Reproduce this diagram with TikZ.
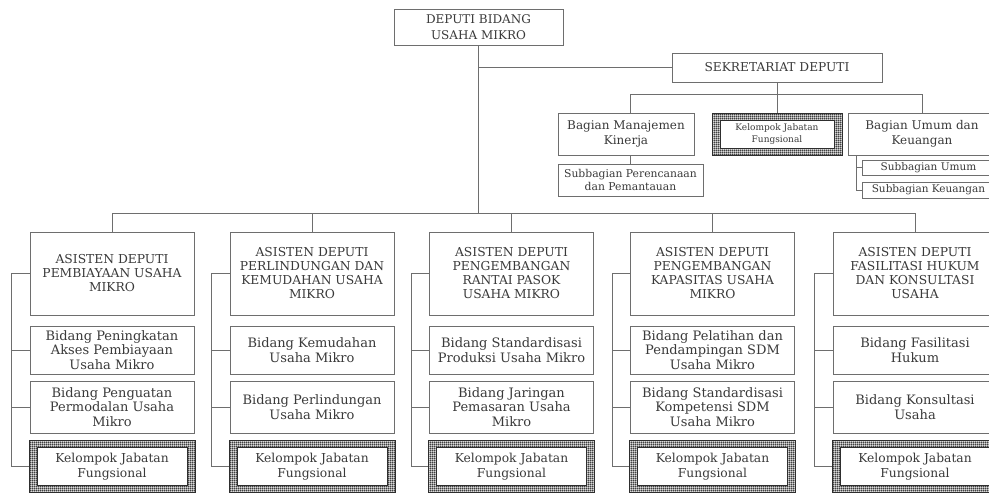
\documentclass[tikz,border=0pt]{standalone}
\usepackage{fontspec}
\setmainfont{DejaVu Serif}
\usetikzlibrary{patterns}

% fine square grid used for the frames of the functional-group boxes
\pgfdeclarepatternformonly{kjfgrid}{\pgfpointorigin}{\pgfqpoint{2.2pt}{2.2pt}}{\pgfqpoint{2.2pt}{2.2pt}}{%
  \pgfsetlinewidth{1.1pt}%
  \pgfpathmoveto{\pgfqpoint{0pt}{1.1pt}}\pgfpathlineto{\pgfqpoint{2.2pt}{1.1pt}}%
  \pgfpathmoveto{\pgfqpoint{1.1pt}{0pt}}\pgfpathlineto{\pgfqpoint{1.1pt}{2.2pt}}%
  \pgfusepath{stroke}}

\definecolor{linecol}{HTML}{6E6E6E}
\definecolor{txtcol}{HTML}{3A3A3A}
\definecolor{gridcol}{HTML}{2E2E2E}

\tikzset{
  box/.style={draw=linecol, line width=0.9pt, fill=white, inner sep=1pt,
              align=center, text=txtcol},
  conn/.style={draw=linecol, line width=0.9pt},
  topbox/.style={box, minimum width=169pt, minimum height=36pt,
                 font=\fontsize{12}{15.5}\selectfont},
  sekbox/.style={box, minimum width=210pt, minimum height=29pt,
                 font=\fontsize{12.2}{14}\selectfont},
  bagbox/.style={box, minimum height=42pt, font=\fontsize{12}{14.5}\selectfont},
  subbox/.style={box, font=\fontsize{10.5}{13.5}\selectfont},
  header/.style={box, minimum width=164pt, minimum height=83pt,
                 font=\fontsize{12.3}{14}\selectfont},
  bidang/.style={box, minimum width=164pt, font=\fontsize{13}{14.5}\selectfont},
  kjfframe/.style={draw=gridcol, line width=0.6pt, pattern=kjfgrid,
                   pattern color=gridcol, inner sep=0pt},
  kjftext/.style={box, line width=0.8pt, draw=gridcol},
}

\begin{document}
\begin{tikzpicture}[x=1pt, y=-1pt]
\useasboundingbox (0,0) rectangle (989,493);
\clip (0,0) rectangle (989,493);
\fill[white] (0,0) rectangle (989,493);

% ---- top level and secretariat ----
\node[topbox] (dep) at (478.5,27) {DEPUTI BIDANG\\USAHA MIKRO};
\node[sekbox] (sek) at (777,67.5) {SEKRETARIAT DEPUTI};

\node[bagbox, minimum width=136pt] (bmk) at (626,134) {Bagian Manajemen\\Kinerja};
\node[kjfframe, minimum width=130pt, minimum height=42pt] (kjfs) at (777,134) {};
\node[kjftext, minimum width=114pt, minimum height=28pt,
      font=\fontsize{9}{11.5}\selectfont] (kjfst) at (kjfs) {Kelompok Jabatan\\Fungsional};
\node[bagbox, minimum width=148pt] (bum) at (922,134) {Bagian Umum dan\\Keuangan};

\node[subbox, minimum width=145pt, minimum height=32pt,
      font=\fontsize{10.8}{13.5}\selectfont] (sbp) at (630.5,180) {Subbagian Perencanaan\\dan Pemantauan};
\node[subbox, minimum width=133pt, minimum height=15pt] (sbu) at (928.5,167.5) {Subbagian Umum};
\node[subbox, minimum width=133pt, minimum height=16pt] (sbk) at (928.5,190) {Subbagian Keuangan};

% ---- assistant deputies ----
\node[header] (h1) at (112,273.5) {ASISTEN DEPUTI\\PEMBIAYAAN USAHA\\MIKRO};
\node[header] (h2) at (312,273.5) {ASISTEN DEPUTI\\PERLINDUNGAN DAN\\KEMUDAHAN USAHA\\MIKRO};
\node[header] (h3) at (511.5,273.5) {ASISTEN DEPUTI\\PENGEMBANGAN\\RANTAI PASOK\\USAHA MIKRO};
\node[header] (h4) at (712.5,273.5) {ASISTEN DEPUTI\\PENGEMBANGAN\\KAPASITAS USAHA\\MIKRO};
\node[header] (h5) at (915,273.5) {ASISTEN DEPUTI\\FASILITASI HUKUM\\DAN KONSULTASI\\USAHA};

% first field of each unit
\node[bidang, minimum height=48pt] (b1a) at (112,350) {Bidang Peningkatan\\Akses Pembiayaan\\Usaha Mikro};
\node[bidang, minimum height=48pt] (b2a) at (312,350) {Bidang Kemudahan\\Usaha Mikro};
\node[bidang, minimum height=48pt] (b3a) at (511.5,350) {Bidang Standardisasi\\Produksi Usaha Mikro};
\node[bidang, minimum height=48pt] (b4a) at (712.5,350) {Bidang Pelatihan dan\\Pendampingan SDM\\Usaha Mikro};
\node[bidang, minimum height=48pt] (b5a) at (915,350) {Bidang Fasilitasi\\Hukum};

% second field of each unit
\node[bidang, minimum height=52pt] (b1b) at (112,407) {Bidang Penguatan\\Permodalan Usaha\\Mikro};
\node[bidang, minimum height=52pt] (b2b) at (312,407) {Bidang Perlindungan\\Usaha Mikro};
\node[bidang, minimum height=52pt] (b3b) at (511.5,407) {Bidang Jaringan\\Pemasaran Usaha\\Mikro};
\node[bidang, minimum height=52pt] (b4b) at (712.5,407) {Bidang Standardisasi\\Kompetensi SDM\\Usaha Mikro};
\node[bidang, minimum height=52pt] (b5b) at (915,407) {Bidang Konsultasi\\Usaha};

% functional groups
\foreach \n/\cx in {1/112, 2/312, 3/511.5, 4/712.5, 5/915} {
  \node[kjfframe, minimum width=166pt, minimum height=52pt] (k\n) at (\cx,466.5) {};
  \node[kjftext, minimum width=150pt, minimum height=38pt,
        font=\fontsize{12.3}{14.5}\selectfont] (k\n t) at (k\n) {Kelompok Jabatan\\Fungsional};
}

% ---- connectors ----
\coordinate (bus) at (0,213);
\coordinate (sbus) at (0,94);
\coordinate (sl) at (856,0);

\draw[conn] (dep.south) -- (dep.south |- bus);
\draw[conn] (dep.south |- sek.west) -- (sek.west);
\draw[conn] (h1.north |- bus) -- (h5.north |- bus);
\foreach \n in {1,...,5} {
  \draw[conn] (h\n.north |- bus) -- (h\n.north);
  \path (h\n.west) ++(-18,0) coordinate (v\n);
  \draw[conn] (h\n.west) -- (v\n) |- (k\n.west);
  \draw[conn] (b\n a.west) -- (b\n a.west -| v\n);
  \draw[conn] (b\n b.west) -- (b\n b.west -| v\n);
}

\draw[conn] (sek.south) -- (kjfs.north);
\draw[conn] (sbp.north |- sbus) -- (bum.north |- sbus);
\draw[conn] (sbp.north |- sbus) -- (sbp.north |- bmk.north);
\draw[conn] (bum.north |- sbus) -- (bum.north);
\draw[conn] (sbp.north |- bmk.south) -- (sbp.north);
\draw[conn] (sl |- bum.south) -- (sl |- sbk.west) -- (sbk.west);
\draw[conn] (sl |- sbu.west) -- (sbu.west);
\end{tikzpicture}
\end{document}
